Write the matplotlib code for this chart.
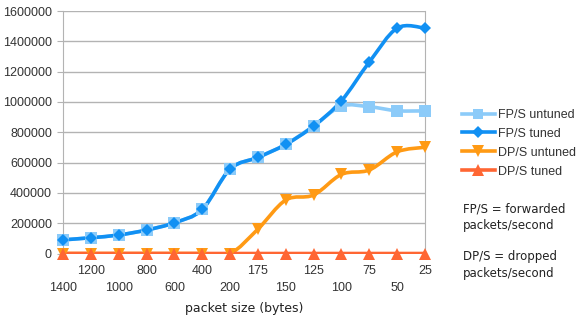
import matplotlib
matplotlib.use("Agg")
import matplotlib.pyplot as plt
from matplotlib.path import Path
from matplotlib.patches import PathPatch
from matplotlib.lines import Line2D
import numpy as np

# Packet sizes (bytes) on the category axis
packet_sizes = ["1400", "1200", "1000", "800", "600", "400", "200",
                "175", "150", "125", "100", "75", "50", "25"]

fps_untuned = [90000, 104000, 122000, 155000, 203000, 291000, 557000,
               634000, 720000, 841000, 972000, 968000, 942000, 941000]
fps_tuned = [90000, 104000, 122000, 155000, 203000, 291000, 557000,
             634000, 720000, 841000, 1008000, 1263000, 1487000, 1487000]
dps_untuned = [0, 0, 0, 0, 0, 0, 0,
               161000, 353000, 386000, 522000, 551000, 671000, 701000]
dps_tuned = [0] * 14

series = [
    ("FP/S untuned", fps_untuned, "#8ccbf9", "s", 8),
    ("FP/S tuned", fps_tuned, "#1190f3", "D", 6.5),
    ("DP/S untuned", dps_untuned, "#ff9a14", "v", 8.5),
    ("DP/S tuned", dps_tuned, "#ff6633", "^", 8.5),
]

plt.rcParams["font.family"] = ["Liberation Sans", "DejaVu Sans"]

fig = plt.figure(figsize=(5.82, 3.26), dpi=100)
ax = fig.add_axes([63 / 582, 1 - 253.5 / 326, 362 / 582, 242.5 / 326])

x = np.arange(len(packet_sizes))


def smooth_path(xs, ys, tension=1 / 6):
    """Cubic Bezier path through the points (Catmull-Rom style)."""
    pts = np.column_stack([xs, ys]).astype(float)
    n = len(pts)
    verts = [pts[0]]
    codes = [Path.MOVETO]
    for i in range(n - 1):
        p0 = pts[i - 1] if i > 0 else pts[i]
        p1 = pts[i]
        p2 = pts[i + 1]
        p3 = pts[i + 2] if i + 2 < n else pts[i + 1]
        c1 = p1 + (p2 - p0) * tension
        c2 = p2 - (p3 - p1) * tension
        verts += [c1, c2, p2]
        codes += [Path.CURVE4] * 3
    return Path(verts, codes)


for name, vals, color, marker, ms in series:
    patch = PathPatch(smooth_path(x, vals), facecolor="none", edgecolor=color,
                      lw=2.6, zorder=3, capstyle="round", joinstyle="round")
    ax.add_patch(patch)
    ax.plot(x, vals, linestyle="none", marker=marker, ms=ms, color=color,
            markeredgewidth=0, zorder=4, clip_on=False)

ax.set_xlim(0, len(packet_sizes) - 1)
ax.set_ylim(0, 1600000)
ax.set_yticks(np.arange(0, 1600001, 200000))
ax.set_yticklabels([f"{v:d}" for v in range(0, 1600001, 200000)],
                   fontsize=9, color="#333333")
ax.yaxis.grid(True, color="#b3b3b3", lw=1)
ax.set_axisbelow(True)

# staggered category labels
ax.set_xticks(x)
ax.set_xticklabels([lab if i % 2 else "\n" + lab for i, lab in enumerate(packet_sizes)],
                   fontsize=9, color="#333333", linespacing=1.5)
ax.tick_params(axis="x", length=0, pad=8.5)
ax.tick_params(axis="y", length=4, color="#b3b3b3", pad=4)

for side in ["left", "right"]:
    ax.spines[side].set_color("#b3b3b3")
for side in ["top", "bottom"]:
    ax.spines[side].set_visible(False)

ax.set_xlabel("packet size (bytes)", fontsize=9, family="DejaVu Sans",
              color="#222222", labelpad=6)

handles = [Line2D([], [], color=c, lw=2.6, marker=m, ms=ms * 0.95, markeredgewidth=0)
           for _, _, c, m, ms in series]
fig.legend(handles, [s[0] for s in series], loc="upper left",
           bbox_to_anchor=(457 / 582, 1 - 104 / 326), frameon=False,
           fontsize=9, handlelength=2.6, handletextpad=0.25, labelspacing=0.55,
           borderaxespad=0, labelcolor="#333333")

fig.text(463 / 582, 1 - 203 / 326, "FP/S = forwarded\npackets/second",
         family="DejaVu Sans", fontsize=8.5, va="top", color="#222222",
         linespacing=1.35)
fig.text(463 / 582, 1 - 250 / 326, "DP/S = dropped\npackets/second",
         family="DejaVu Sans", fontsize=8.5, va="top", color="#222222",
         linespacing=1.35)

fig.savefig("out.png", dpi=100)
